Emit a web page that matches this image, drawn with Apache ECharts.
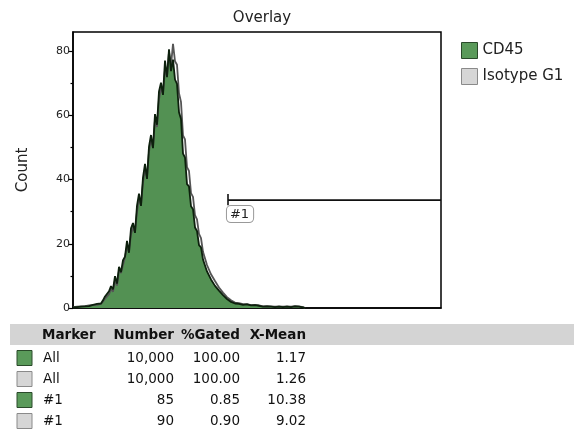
<!DOCTYPE html>
<html>
<head>
<meta charset="utf-8">
<script src="https://cdn.jsdelivr.net/npm/echarts@6/dist/echarts.min.js"></script>
<style>
  html, body { margin: 0; padding: 0; background: #fff; }
  #chart { width: 574px; height: 433px; }
</style>
</head>
<body>
<div id="chart"></div>
<script>
// histogram counts per channel bin
const cd45Counts = [
  0.2, 0.4, 0.3, 0.5, 0.4, 0.6, 0.5, 0.7, 0.6, 0.9,
  1.0, 0.8, 1.3, 1.6, 1.4, 2.4, 3.6, 3.1, 5.2, 6.8,
  5.8, 9.9, 7.6, 12.8, 11.2, 14.9, 16.0, 20.9, 17.2, 24.8,
  26.5, 23.4, 31.9, 35.6, 31.8, 40.7, 44.9, 40.2, 50.3, 53.9,
  49.8, 60.4, 57.1, 67.5, 70.2, 66.4, 77.1, 71.9, 80.6, 73.8,
  77.4, 71.2, 69.8, 61.0, 58.9, 48.1, 46.9, 38.6, 37.9, 31.7,
  30.8, 25.1, 24.0, 19.6, 18.9, 15.1, 14.8, 11.4, 11.2, 8.9,
  8.7, 6.9, 6.8, 5.4, 5.3, 4.0, 3.9, 2.8, 2.7, 1.9,
  1.6, 1.4, 1.1, 1.3, 0.9, 1.0, 0.8, 1.1, 0.7, 0.8,
  0.6, 0.9, 0.5, 0.7, 0.6, 0.4, 0.7, 0.5, 0.6, 0.4,
  0.5, 0.3, 0.6, 0.4, 0.5, 0.3, 0.6, 0.4, 0.5, 0.3,
  0.4, 0.5, 0.3, 0.4, 0.3, 0.2, 0
];
const isotypeCounts = [
  0.3, 0.2, 0.4, 0.3, 0.5, 0.4, 0.6, 0.5, 0.8, 0.7,
  0.9, 1.1, 1.0, 1.4, 1.3, 2.0, 2.9, 2.7, 4.3, 5.9,
  5.1, 8.6, 7.0, 11.6, 10.9, 13.4, 15.8, 19.0, 17.6, 22.9,
  25.1, 23.8, 29.9, 34.2, 32.1, 39.1, 43.2, 40.8, 48.7, 52.4,
  50.1, 58.7, 56.4, 65.0, 68.4, 66.9, 74.3, 72.1, 79.8, 75.6,
  82.3, 76.9, 75.8, 66.9, 64.2, 53.8, 52.5, 43.9, 42.7, 35.8,
  34.6, 28.9, 27.6, 23.1, 21.8, 17.5, 17.1, 13.4, 13.2, 10.5,
  10.2, 8.4, 8.1, 6.4, 6.3, 4.8, 4.6, 3.4, 3.3, 2.4,
  2.0, 1.7, 1.4, 1.5, 1.1, 1.2, 0.9, 1.2, 0.8, 0.9,
  0.7, 1.0, 0.6, 0.8, 0.7, 0.5, 0.8, 0.6, 0.7, 0.5,
  0.6, 0.4, 0.7, 0.5, 0.6, 0.4, 0.7, 0.5, 0.6, 0.4,
  0.5, 0.6, 0.4, 0.5, 0.4, 0.3, 0
];
const channelMax = 184;
const countMax = 86;
const yTicks = [0, 20, 40, 60, 80];
const yMinorTicks = [10, 30, 50, 70];

// marker #1 gate
const markerName = "#1";
const markerX = [77.5, 184];
const markerLevel = 33.6;
const markerTick = [32, 35.5];

const seriesNames = ["CD45", "Isotype G1"];

// stats table
const tableHeader = ["Marker", "Number", "%Gated", "X-Mean"];
const tableMarkers = ["All", "All", "#1", "#1"];
const tableNumbers = ["10,000", "10,000", "85", "90"];
const tableGated = ["100.00", "100.00", "0.85", "0.90"];
const tableMeans = ["1.17", "1.26", "10.38", "9.02"];
const tableSwatch = [0, 1, 0, 1];

const FONT = "DejaVu Sans";
const swatchFill = ["#5a9a5a", "#d6d6d6"];
const swatchBorder = ["#2a4a2a", "#8a8a8a"];

const chart = echarts.init(document.getElementById("chart"));

const toPairs = (arr) => arr.map((v, i) => [i, v]);

// table graphics
const tableGraphics = [
  {
    type: "rect",
    shape: { x: 10, y: 324, width: 564, height: 21 },
    style: { fill: "#d4d4d4" },
    silent: true,
  },
];
const colX = [42, 174, 240, 306];
const colAlign = ["left", "right", "right", "right"];
tableHeader.forEach((h, c) => {
  tableGraphics.push({
    type: "text",
    x: colX[c],
    y: 335,
    style: {
      text: h,
      font: "bold 13.5px " + FONT,
      fill: "#111",
      align: colAlign[c],
      verticalAlign: "middle",
    },
  });
});
const rowY = [358, 379, 400, 421];
tableMarkers.forEach((m, r) => {
  const cells = [m, tableNumbers[r], tableGated[r], tableMeans[r]];
  tableGraphics.push({
    type: "rect",
    shape: { x: 17, y: rowY[r] - 7.5, width: 15, height: 15 },
    style: {
      fill: swatchFill[tableSwatch[r]],
      stroke: swatchBorder[tableSwatch[r]],
      lineWidth: 1,
    },
  });
  cells.forEach((t, c) => {
    tableGraphics.push({
      type: "text",
      x: c === 0 ? 43 : colX[c],
      y: rowY[r],
      style: {
        text: t,
        font: "13.5px " + FONT,
        fill: "#111",
        align: colAlign[c],
        verticalAlign: "middle",
      },
    });
  });
});

const option = {
  animation: false,
  backgroundColor: "#fff",
  title: {
    text: "Overlay",
    left: 257,
    textAlign: "center",
    top: 6,
    textStyle: { fontFamily: FONT, fontSize: 15, fontWeight: "normal", color: "#222" },
  },
  legend: {
    orient: "vertical",
    left: 456,
    top: 37,
    itemWidth: 16,
    itemHeight: 16,
    itemGap: 9,
    selectedMode: false,
    textStyle: { fontFamily: FONT, fontSize: 15, color: "#222" },
    data: [
      {
        name: seriesNames[0],
        icon: "rect",
        itemStyle: { color: swatchFill[0], borderColor: swatchBorder[0], borderWidth: 1 },
      },
      {
        name: seriesNames[1],
        icon: "rect",
        itemStyle: { color: swatchFill[1], borderColor: swatchBorder[1], borderWidth: 1 },
      },
    ],
  },
  grid: {
    left: 73,
    right: 133,
    top: 32,
    bottom: 125,
    show: true,
    borderColor: "#000",
    borderWidth: 1.5,
    backgroundColor: "#fff",
  },
  xAxis: {
    type: "value",
    min: 0,
    max: channelMax,
    axisLine: { show: true, lineStyle: { color: "#000", width: 1.5 } },
    axisTick: { show: false },
    axisLabel: { show: false },
    splitLine: { show: false },
  },
  yAxis: [
    {
      type: "value",
      min: 0,
      max: countMax,
      name: "Count",
      nameLocation: "middle",
      nameGap: 42,
      nameTextStyle: { fontFamily: FONT, fontSize: 15, color: "#222" },
      axisLine: { show: true, lineStyle: { color: "#000", width: 1.5 } },
      axisTick: { show: true, length: 5, customValues: yTicks, lineStyle: { color: "#000", width: 1.2 } },
      axisLabel: { customValues: yTicks, fontFamily: FONT, fontSize: 11, color: "#222", margin: 3 },
      splitLine: { show: false },
    },
    {
      type: "value",
      min: 0,
      max: countMax,
      position: "left",
      axisLine: { show: false },
      axisTick: { show: true, length: 2.5, customValues: yMinorTicks, lineStyle: { color: "#000", width: 1.2 } },
      axisLabel: { show: false },
      splitLine: { show: false },
    },
  ],
  series: [
    {
      name: seriesNames[0],
      type: "line",
      data: toPairs(cd45Counts),
      showSymbol: false,
      lineStyle: { width: 0 },
      areaStyle: { color: "#539153", opacity: 1 },
      itemStyle: { color: swatchFill[0] },
      z: 2,
    },
    {
      name: seriesNames[1],
      type: "line",
      data: toPairs(isotypeCounts),
      showSymbol: false,
      lineStyle: { width: 1.8, color: "#555" },
      itemStyle: { color: swatchFill[1] },
      z: 3,
    },
    {
      name: seriesNames[0],
      type: "line",
      data: toPairs(cd45Counts),
      showSymbol: false,
      lineStyle: { width: 1.8, color: "#0d200d" },
      itemStyle: { color: swatchFill[0] },
      z: 4,
    },
    {
      name: markerName,
      type: "line",
      data: [
        { value: [markerX[0], markerTick[1]] },
        { value: [markerX[0], markerTick[0]] },
        {
          value: [markerX[0], markerLevel],
          symbol: "circle",
          symbolSize: 0.1,
          label: {
            show: true,
            position: [-1, 6],
            formatter: markerName,
            fontFamily: FONT,
            fontSize: 13,
            color: "#222",
            backgroundColor: "#fff",
            borderColor: "#999",
            borderWidth: 1,
            borderRadius: 4,
            padding: [2, 4, 1, 3],
            align: "left",
            verticalAlign: "top",
          },
        },
        { value: [markerX[1], markerLevel] },
      ],
      symbol: "none",
      lineStyle: { width: 1.6, color: "#111" },
      itemStyle: { color: "transparent" },
      z: 5,
    },
  ],
  graphic: tableGraphics,
};

chart.setOption(option);
</script>
</body>
</html>
